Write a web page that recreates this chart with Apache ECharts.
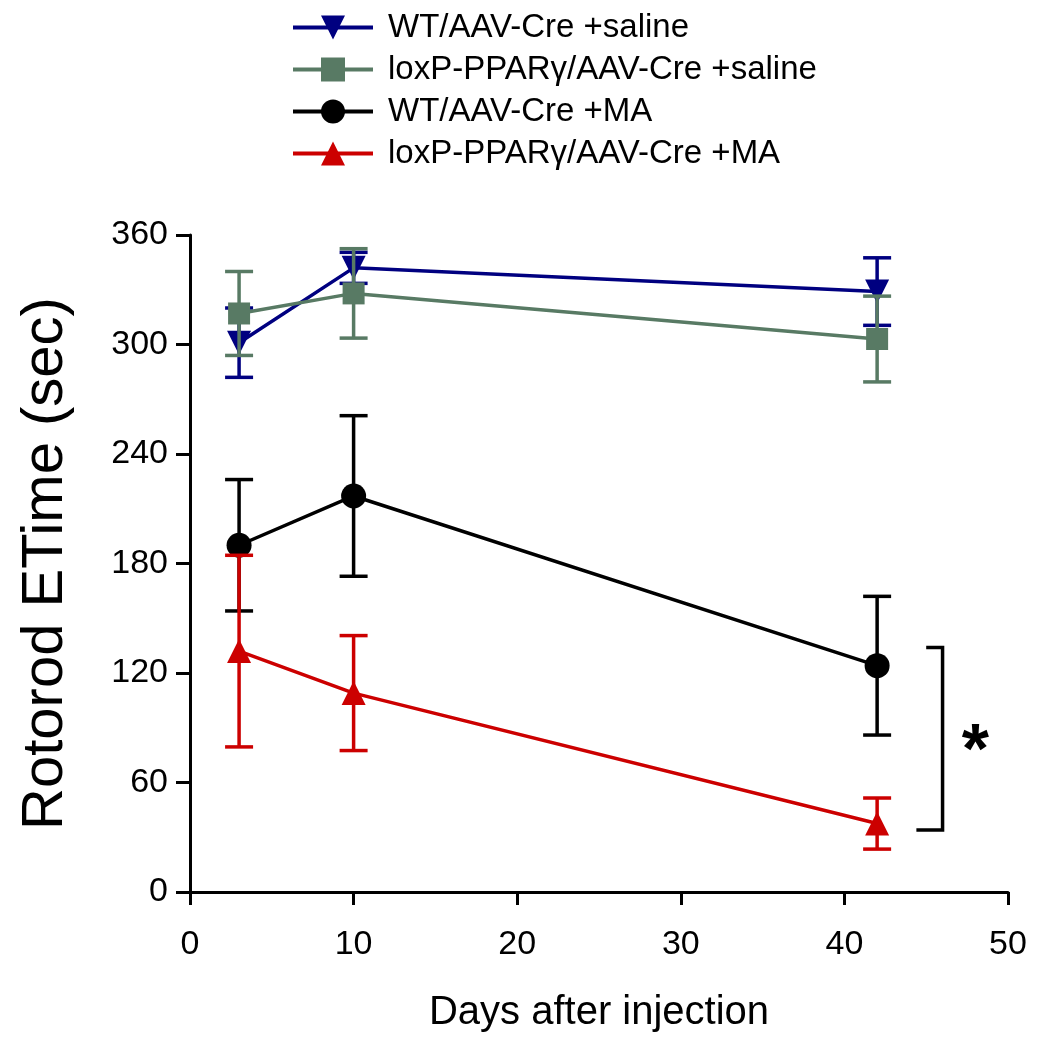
<!DOCTYPE html>
<html>
<head>
<meta charset="utf-8">
<script src="https://cdn.jsdelivr.net/npm/echarts@6/dist/echarts.min.js"></script>
<style>html,body{margin:0;padding:0;background:#fff}#c{width:1041px;height:1050px}</style>
</head>
<body>
<div id="c"></div>
<script>
const days = [3, 10, 42];
const seriesNames = ['WT/AAV-Cre +saline', 'loxP-PPAR\u03b3/AAV-Cre +saline', 'WT/AAV-Cre +MA', 'loxP-PPAR\u03b3/AAV-Cre +MA'];
const wtSaline = [301, 342, 329];
const wtSalineErr = [19, 8.5, 18.5];
const loxSaline = [317, 328, 303];
const loxSalineErr = [23, 24.5, 23.5];
const wtMA = [190, 217, 124];
const wtMAErr = [36, 44, 38];
const loxMA = [132, 109, 37.5];
const loxMAErr = [52.5, 31.5, 14];
const xTicks = [0, 10, 20, 30, 40, 50];
const yTicks = [0, 60, 120, 180, 240, 300, 360];
const bracketX = [45.0, 46.0, 46.0, 44.4];
const bracketY = [134, 134, 34, 34];
const starPos = [48, 76];

const FONT = '"Liberation Sans", Arial, sans-serif';
const colors = ['#000080', '#587a64', '#000000', '#cc0000'];
const symbols = ['triangle', 'rect', 'circle', 'triangle'];
const rotates = [180, 0, 0, 0];
const sizes = [24, 22, 25, 24];
const means = [wtSaline, loxSaline, wtMA, loxMA];
const errs = [wtSalineErr, loxSalineErr, wtMAErr, loxMAErr];

const series = [];
means.forEach((m, i) => {
  series.push({
    type: 'custom',
    name: seriesNames[i] + ' err',
    z: 3 + i,
    clip: false,
    data: days.map((d, k) => [d, m[k] - errs[i][k], m[k] + errs[i][k]]),
    renderItem: function (params, api) {
      const x = api.value(0);
      const lo = api.coord([x, api.value(1)]);
      const hi = api.coord([x, api.value(2)]);
      const w = 14;
      const st = { stroke: colors[i], lineWidth: 3.5 };
      return {
        type: 'group',
        children: [
          { type: 'line', shape: { x1: lo[0], y1: lo[1], x2: hi[0], y2: hi[1] }, style: st },
          { type: 'line', shape: { x1: hi[0] - w, y1: hi[1], x2: hi[0] + w, y2: hi[1] }, style: st },
          { type: 'line', shape: { x1: lo[0] - w, y1: lo[1], x2: lo[0] + w, y2: lo[1] }, style: st }
        ]
      };
    }
  });
  series.push({
    type: 'line',
    name: seriesNames[i],
    z: 3 + i,
    data: days.map((d, k) => [d, m[k]]),
    symbol: symbols[i],
    symbolRotate: rotates[i],
    symbolSize: sizes[i],
    showAllSymbol: true,
    color: colors[i],
    lineStyle: { color: colors[i], width: 3.5 },
    itemStyle: { color: colors[i] }
  });
});

series.push({
  type: 'custom',
  name: 'bracket',
  clip: false,
  z: 10,
  data: [0],
  renderItem: function (params, api) {
    const pts = bracketX.map((bx, k) => api.coord([bx, bracketY[k]]));
    const sp = api.coord(starPos);
    return {
      type: 'group',
      children: [
        { type: 'polyline', shape: { points: pts }, style: { stroke: '#000', lineWidth: 3.5, fill: null } },
        { type: 'text', x: sp[0], y: sp[1], style: { text: '*', font: 'bold 70px ' + FONT, fill: '#000', align: 'center', verticalAlign: 'middle' } }
      ]
    };
  }
});

const chart = echarts.init(document.getElementById('c'), null, { renderer: 'canvas' });
chart.setOption({
  backgroundColor: '#ffffff',
  animation: false,
  textStyle: { fontFamily: FONT },
  grid: { left: 190, right: 33, top: 235, bottom: 158, containLabel: false },
  legend: {
    data: seriesNames,
    orient: 'vertical',
    left: 286,
    top: 6,
    itemWidth: 80,
    itemHeight: 30,
    itemGap: 9,
    lineStyle: { width: 4 },
    textStyle: { fontSize: 33, color: '#000', fontFamily: FONT, padding: [0, 0, 0, 10] }
  },
  xAxis: {
    type: 'value',
    min: xTicks[0],
    max: xTicks[xTicks.length - 1],
    interval: 10,
    name: 'Days after injection',
    nameLocation: 'middle',
    nameGap: 101,
    nameTextStyle: { fontSize: 40, color: '#000', fontFamily: FONT },
    axisLine: { onZero: false, lineStyle: { color: '#000', width: 3 } },
    axisTick: { length: 13, lineStyle: { color: '#000', width: 3 } },
    axisLabel: { fontSize: 34, color: '#000', margin: 36, fontFamily: FONT },
    splitLine: { show: false }
  },
  yAxis: {
    type: 'value',
    min: yTicks[0],
    max: yTicks[yTicks.length - 1],
    interval: 60,
    name: 'Rotorod ETime (sec)',
    nameLocation: 'middle',
    nameGap: 115,
    nameTextStyle: { fontSize: 58, color: '#000', fontFamily: FONT },
    axisLine: { onZero: false, lineStyle: { color: '#000', width: 3 } },
    axisTick: { length: 14, lineStyle: { color: '#000', width: 3 } },
    axisLabel: { fontSize: 34, color: '#000', margin: 22, fontFamily: FONT },
    splitLine: { show: false }
  },
  series: series
});
</script>
</body>
</html>
